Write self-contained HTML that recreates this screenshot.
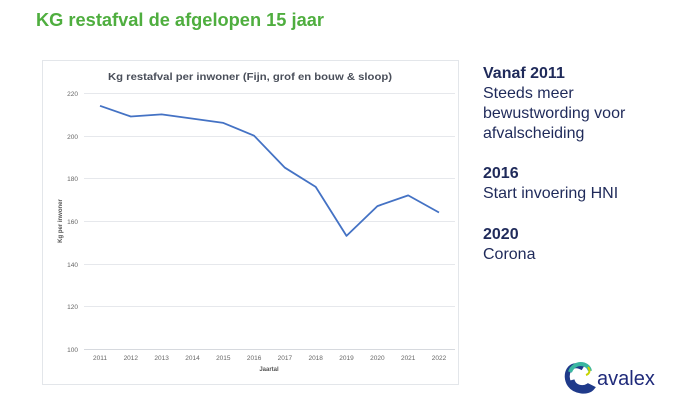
<!DOCTYPE html>
<html><head><meta charset="utf-8"><style>
html,body{margin:0;padding:0;background:#fff;}
body{width:695px;height:411px;position:relative;overflow:hidden;font-family:"Liberation Sans",Arial,sans-serif;}
.side{position:absolute;left:483px;color:#1f2a5a;font-size:16px;line-height:20px;}
.side b{font-weight:bold;}
</style></head><body>
<svg width="695" height="411" style="position:absolute;left:0;top:0">
<text x="36" y="26" font-family="Liberation Sans" font-weight="bold" font-size="18" fill="#4fae3f" textLength="288" lengthAdjust="spacingAndGlyphs">KG restafval de afgelopen 15 jaar</text>
<rect x="42.5" y="60.5" width="416" height="324" fill="#fff" stroke="#e3e6ea"/>
<text x="250" y="80" text-anchor="middle" font-family="Liberation Sans" font-weight="bold" font-size="10.5" fill="#4a4f5a" textLength="284" lengthAdjust="spacingAndGlyphs">Kg restafval per inwoner (Fijn, grof en bouw &amp; sloop)</text>
<g stroke="#e6e8ec" stroke-width="1">
<line x1="84" x2="455" y1="93.5" y2="93.5"/><line x1="84" x2="455" y1="136.5" y2="136.5"/><line x1="84" x2="455" y1="178.5" y2="178.5"/><line x1="84" x2="455" y1="221.5" y2="221.5"/><line x1="84" x2="455" y1="264.5" y2="264.5"/><line x1="84" x2="455" y1="306.5" y2="306.5"/>
</g>
<line x1="84" x2="455" y1="349.5" y2="349.5" stroke="#d6d9de"/>
<g font-family="Liberation Sans" font-size="6.5" fill="#666" text-anchor="end">
<text x="78" y="96">220</text><text x="78" y="139">200</text><text x="78" y="181">180</text><text x="78" y="224">160</text><text x="78" y="267">140</text><text x="78" y="309">120</text><text x="78" y="352">100</text>
</g>
<g font-family="Liberation Sans" font-size="6.5" fill="#666" text-anchor="middle">
<text x="100" y="360">2011</text><text x="130.8" y="360">2012</text><text x="161.6" y="360">2013</text><text x="192.5" y="360">2014</text><text x="223.3" y="360">2015</text><text x="254.1" y="360">2016</text><text x="284.9" y="360">2017</text><text x="315.7" y="360">2018</text><text x="346.5" y="360">2019</text><text x="377.4" y="360">2020</text><text x="408.2" y="360">2021</text><text x="439" y="360">2022</text>
</g>
<text x="269" y="371" text-anchor="middle" font-family="Liberation Sans" font-weight="bold" font-size="6" fill="#555">Jaartal</text>
<text transform="translate(62,221) rotate(-90)" text-anchor="middle" font-family="Liberation Sans" font-weight="bold" font-size="6" fill="#555">Kg per inwoner</text>
<polyline fill="none" stroke="#4472c4" stroke-width="1.8" stroke-linejoin="round" points="100,105.8 130.8,116.5 161.6,114.4 192.5,118.6 223.3,122.9 254.1,135.7 284.9,167.7 315.7,186.9 346.5,235.9 377.4,206.1 408.2,195.4 439,212.5"/>
<!-- logo -->
<path d="M583,368 C570,360 563,375 570,385 C575,392 588,393 592,388 L588,386 C583,389 574,388 572,380" fill="none" stroke="#1f3a8a" stroke-width="5"/>
<path d="M570,372 C574,361 588,362 590,371" fill="none" stroke="#39b6a0" stroke-width="4"/>
<path d="M588,367 C591,371 589,374 586,375" fill="none" stroke="#c8d400" stroke-width="2"/>
<text x="597" y="385" font-family="Liberation Sans" font-size="20" fill="#1f2a7a">avalex</text>
</svg>
<div class="side" style="top:64px"><b>Vanaf 2011</b><br>Steeds meer<br>bewustwording voor<br>afvalscheiding</div>
<div class="side" style="top:164px"><b>2016</b><br>Start invoering HNI</div>
<div class="side" style="top:225px"><b>2020</b><br>Corona</div>
</body></html>
